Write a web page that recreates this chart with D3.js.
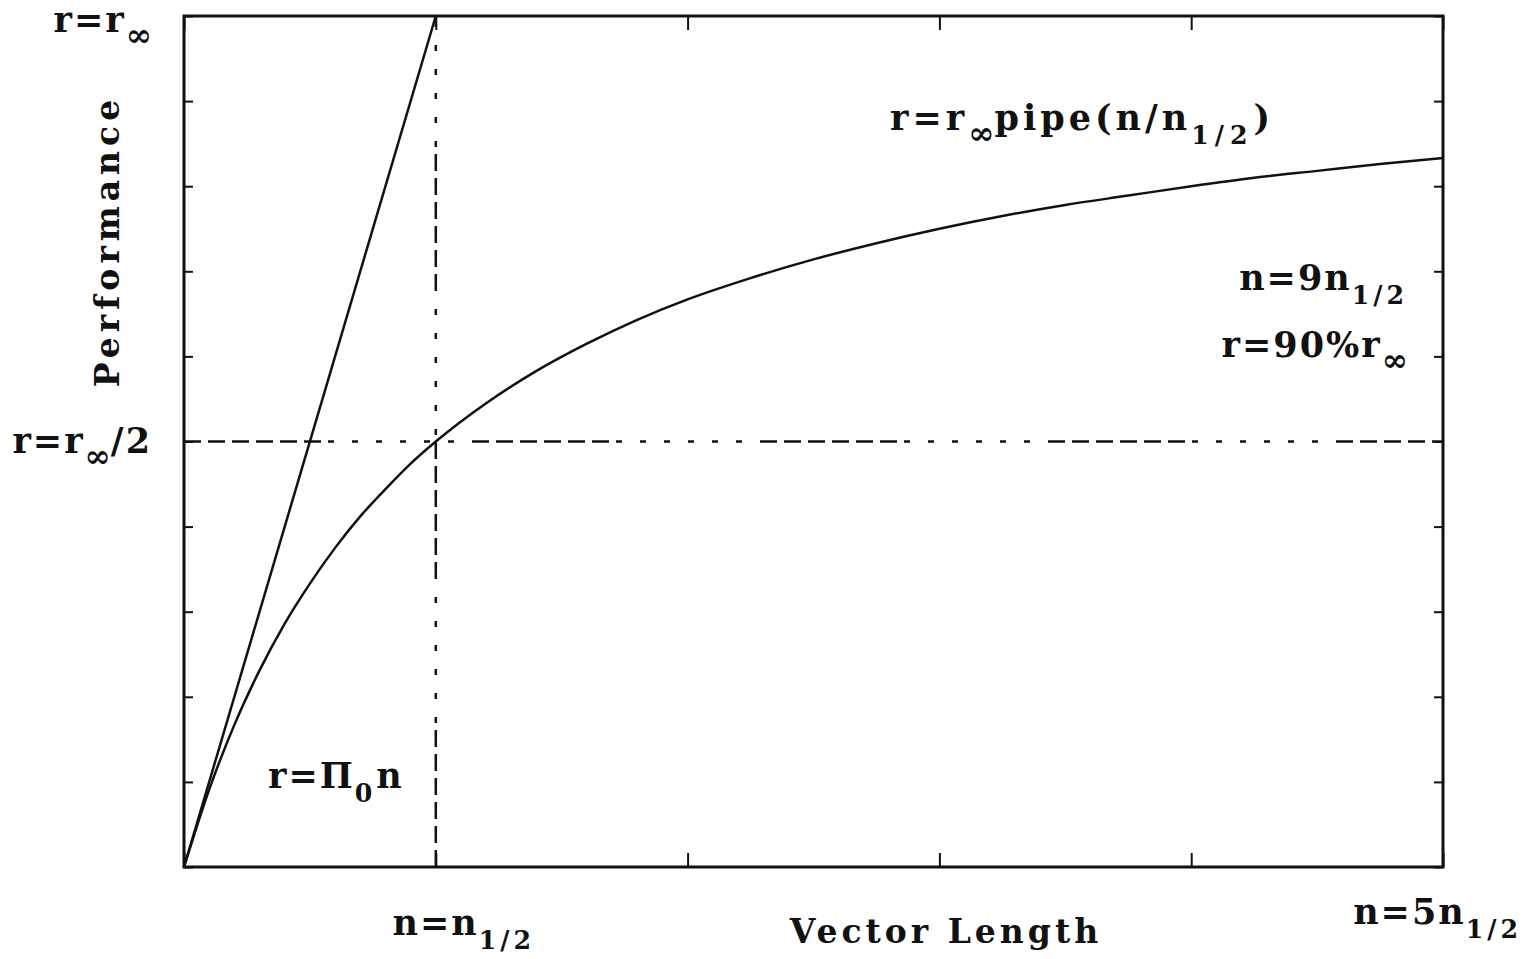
<!DOCTYPE html>
<html>
<head>
<meta charset="utf-8">
<script src="https://cdn.jsdelivr.net/npm/d3@7"></script>
<style>
  body { margin: 0; background: #fff; }
  text { font-family: "DejaVu Serif", serif; font-weight: bold; fill: #111; }
</style>
</head>
<body>
<script>
// vector length in units of n1/2, performance in units of r-infinity
var vectorLength = [0, 0.1, 0.2, 0.3, 0.4, 0.5, 0.6, 0.7, 0.8, 0.9, 1, 1.2, 1.4, 1.6, 1.8, 2,
  2.25, 2.5, 2.75, 3, 3.25, 3.5, 3.75, 4, 4.25, 4.5, 4.75, 5];
var performance = [0, 0.091, 0.167, 0.231, 0.286, 0.333, 0.375, 0.412, 0.444, 0.474, 0.5, 0.545,
  0.583, 0.615, 0.643, 0.667, 0.692, 0.714, 0.733, 0.75, 0.765, 0.778, 0.789, 0.8, 0.81, 0.818, 0.826, 0.833];

// r = PI0 n asymptote
var linearN = [0, 1];
var linearR = [0, 1];

// half performance point
var halfN = 1;
var halfR = 0.5;

var xTicks = [0, 1, 2, 3, 4, 5];
var yTicks = [0, 0.1, 0.2, 0.3, 0.4, 0.5, 0.6, 0.7, 0.8, 0.9, 1];

var width = 1530, height = 959;
var margin = {left: 184, right: 87, top: 16, bottom: 92};

var svg = d3.select("body").append("svg")
  .attr("width", width)
  .attr("height", height);

var x = d3.scaleLinear().domain([0, 5]).range([margin.left, width - margin.right]);
var y = d3.scaleLinear().domain([0, 1]).range([height - margin.bottom, margin.top]);

var dash = "17,7,17,7,17,7,17,7,17,7,17,7,6,18,6,18,6,18,6,18,6,18,6,18";

// ticks, all pointing inward
function tickAxis(axis, tx, ty, ticks, size) {
  svg.append("g")
    .attr("transform", "translate(" + tx + "," + ty + ")")
    .call(axis.tickValues(ticks).tickSize(-size).tickSizeOuter(0).tickFormat(""))
    .call(function(g) {
      g.select(".domain").remove();
      g.selectAll("line").attr("stroke", "#111").attr("stroke-width", 2);
    });
}
tickAxis(d3.axisBottom(x), 0, y(0), xTicks, 14);
tickAxis(d3.axisTop(x), 0, y(1), xTicks, 14);
tickAxis(d3.axisLeft(y), x(0), 0, yTicks, 9);
tickAxis(d3.axisRight(y), x(5), 0, yTicks, 9);

// frame
svg.append("rect")
  .attr("x", x(0)).attr("y", y(1))
  .attr("width", x(5) - x(0)).attr("height", y(0) - y(1))
  .attr("fill", "none").attr("stroke", "#111").attr("stroke-width", 3);

// dashed guides, drawn from the axis outward
svg.append("line")
  .attr("x1", x(0)).attr("y1", y(halfR)).attr("x2", x(5)).attr("y2", y(halfR))
  .attr("stroke", "#111").attr("stroke-width", 2.5).attr("stroke-dasharray", dash);
svg.append("line")
  .attr("x1", x(halfN)).attr("y1", y(0)).attr("x2", x(halfN)).attr("y2", y(1))
  .attr("stroke", "#111").attr("stroke-width", 2.5).attr("stroke-dasharray", dash);

var line = d3.line()
  .x(function(d) { return x(d[0]); })
  .y(function(d) { return y(d[1]); });

svg.append("path")
  .datum(d3.zip(linearN, linearR))
  .attr("d", line)
  .attr("fill", "none").attr("stroke", "#111").attr("stroke-width", 2.5);

svg.append("path")
  .datum(d3.zip(vectorLength, performance))
  .attr("d", line.curve(d3.curveMonotoneX))
  .attr("fill", "none").attr("stroke", "#111").attr("stroke-width", 2.5);

/* label(x, y, anchor, parts, spacing)
   parts = [[text, "sub"|"inf"], ...]; sub parts drop below the baseline,
   "inf" is the big infinity subscript */
function label(px, py, anchor, parts, spacing) {
  var size = 35;
  spacing = spacing || 2;
  var t = svg.append("text")
    .attr("x", px).attr("y", py)
    .attr("text-anchor", anchor)
    .attr("font-size", size);
  var shift = 0;
  parts.forEach(function(p) {
    var want = p[1] ? Math.round(size * 0.4) : 0;
    var fs = p[1] == "sub" ? size * 0.72 : (p[1] == "inf" ? size * 0.9 : size);
    t.append("tspan")
      .attr("dy", want - shift)
      .attr("font-size", fs)
      .attr("letter-spacing", p[1] == "sub" ? spacing + 2 : (p[1] == "inf" ? 0 : spacing))
      .text(p[0]);
    shift = want;
  });
  return t;
}

label(152, y(1) + 16, "end", [["r=r"], ["\u221e", "inf"]]);
label(152, y(halfR) + 11, "end", [["r=r"], ["\u221e", "inf"], ["/2"]]);
label(890, 130, "start", [["r=r"], ["\u221e", "inf"], ["pipe(n/n"], ["1/2", "sub"], [")"]], 4);
label(1408, 290, "end", [["n=9n"], ["1/2", "sub"]]);
label(1408, 357, "end", [["r=90%r"], ["\u221e", "inf"]]);
label(268, 788, "start", [["r=\u03a0"], ["0", "sub"], ["n"]]);
label(x(halfN) + 28, 935, "middle", [["n=n"], ["1/2", "sub"]]);
label(1522, 924, "end", [["n=5n"], ["1/2", "sub"]]);

svg.append("text")
  .attr("x", 946).attr("y", 943)
  .attr("text-anchor", "middle")
  .attr("font-size", 33)
  .attr("letter-spacing", 4)
  .text("Vector Length");

svg.append("text")
  .attr("transform", "translate(119,241) rotate(-90)")
  .attr("text-anchor", "middle")
  .attr("font-size", 33)
  .attr("letter-spacing", 5)
  .text("Performance");
</script>
</body>
</html>
